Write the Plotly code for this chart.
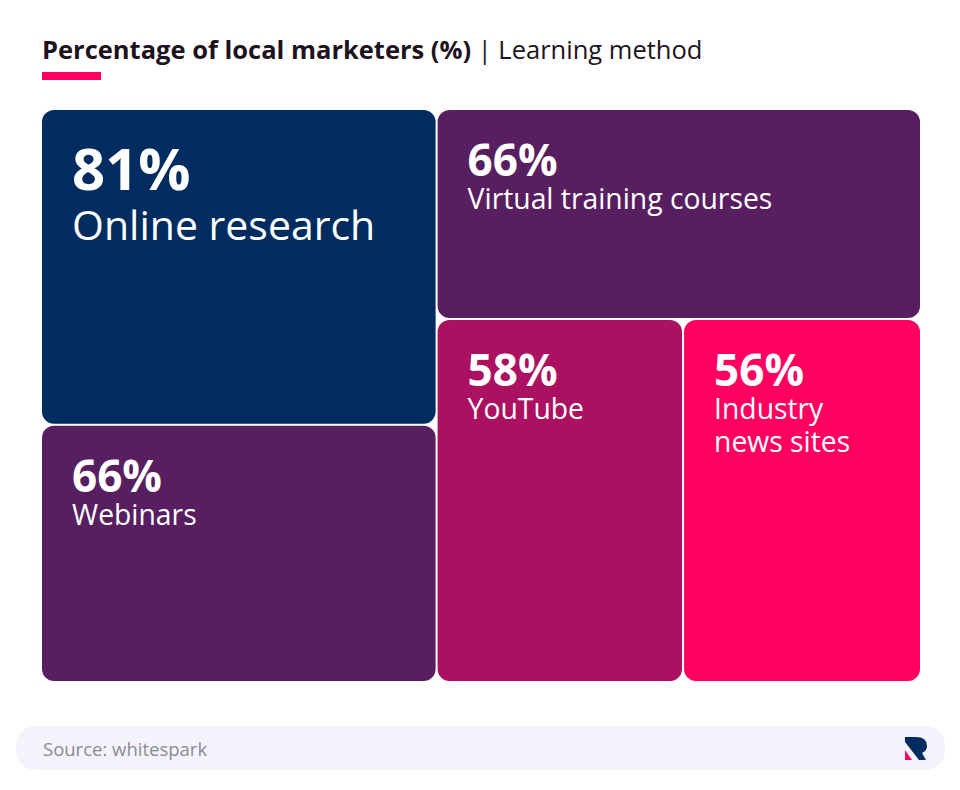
import plotly.graph_objects as go

# ---- data ----
methods = ["Online research", "Webinars", "Virtual training courses", "YouTube", "Industry<br>news sites"]
shares = [81, 66, 66, 58, 56]
tile_colors = ["#012c5f", "#581f60", "#581f60", "#ab1160", "#ff0060"]

title_bold = "Percentage of local marketers (%)"
title_rest = " | Learning method"
source_text = "Source: whitespark"

W, H = 960, 790
FONT = "Open Sans"
RADIUS = 12


def px(x):
    return x / W


def py(y):
    return 1 - y / H


def tile_text(i, label, val):
    lead = i == 0
    pct_size = 58 if lead else 44
    lab_size = 41 if lead else 28.3
    spacer = 25 if lead else 28
    indent = '<span style="font-size:26px">\u00a0\u00a0\u00a0\u00a0</span>'
    lines = [f'<span style="font-size:{spacer}px">\u00a0</span>',
             f'{indent}<span style="font-size:{pct_size}px"><b>{val}%</b></span>']
    for part in label.split("<br>"):
        lines.append(f'{indent}<span style="font-size:{lab_size}px">{part}</span>')
    return "<br>".join(lines)


root = "all"
ids = [root] + methods
labels = [root] + methods
parents = [""] + [root] * len(methods)
values = [sum(shares)] + shares
texts = [" "] + [tile_text(i, m, v) for i, (m, v) in enumerate(zip(methods, shares))]
base_sizes = [10] + [38.5 if i == 0 else 25.4 for i in range(len(methods))]
colors = ["white"] + tile_colors

# root padding equals the corner radius; the domain is widened by the same amount
fig = go.Figure(go.Treemap(
    ids=ids,
    labels=labels,
    parents=parents,
    values=values,
    branchvalues="total",
    text=texts,
    texttemplate="%{text}",
    textposition="top left",
    textfont=dict(family=FONT, color="white", size=base_sizes),
    marker=dict(colors=colors, line=dict(width=0), cornerradius=RADIUS,
                pad=dict(t=RADIUS, l=RADIUS, r=RADIUS, b=RADIUS)),
    tiling=dict(packing="binary", pad=2),
    sort=False,
    pathbar=dict(visible=False),
    hoverinfo="skip",
    domain=dict(x=[px(42 - RADIUS), px(920 + RADIUS)], y=[py(681 + RADIUS), py(110 - RADIUS)]),
))

shapes = []
# pink accent bar under title
shapes.append(dict(type="rect", xref="paper", yref="paper",
                   x0=px(42), x1=px(101), y0=py(80), y1=py(72),
                   fillcolor="#ff0060", line=dict(width=0)))

# footer pill
x0, x1, y0, y1, r = 16, 945, 726, 770, 22


def P(x, y):
    return f"{px(x):.5f},{py(y):.5f}"


pill = (f"M {P(x0 + r, y0)} L {P(x1 - r, y0)} Q {P(x1, y0)} {P(x1, y0 + r)} "
        f"Q {P(x1, y1)} {P(x1 - r, y1)} L {P(x0 + r, y1)} Q {P(x0, y1)} {P(x0, y1 - r)} "
        f"Q {P(x0, y0)} {P(x0 + r, y0)} Z")
shapes.append(dict(type="path", xref="paper", yref="paper", path=pill,
                   fillcolor="#f4f3fc", line=dict(width=0), layer="below"))

# logo
navy = (f"M {P(905, 737)} L {P(916, 737)} Q {P(927, 737)} {P(927, 746)} "
        f"Q {P(927, 751)} {P(922, 753)} L {P(926, 760)} L {P(919, 760)} L {P(905, 742)} Z")
shapes.append(dict(type="path", xref="paper", yref="paper", path=navy,
                   fillcolor="#012c5f", line=dict(width=0)))
pink = f"M {P(905, 750)} L {P(912, 760)} L {P(905, 760)} Z"
shapes.append(dict(type="path", xref="paper", yref="paper", path=pink,
                   fillcolor="#ff0060", line=dict(width=0)))

fig.update_layout(
    width=W, height=H,
    margin=dict(l=0, r=0, t=0, b=0),
    paper_bgcolor="white",
    title=dict(text=f"<b>{title_bold}</b>{title_rest}",
               x=px(42), xanchor="left", xref="paper",
               y=py(50), yanchor="middle", yref="container",
               font=dict(family=FONT, size=25.5, color="#1d1320")),
    shapes=shapes,
    annotations=[dict(text=source_text, x=px(41), y=py(748), xref="paper", yref="paper",
                      xanchor="left", yanchor="middle", showarrow=False,
                      font=dict(family=FONT, size=18.5, color="#8b8b95"))],
)

fig.write_html("out.html", config={"displayModeBar": False},
               post_script="document.body.style.margin='0';")
